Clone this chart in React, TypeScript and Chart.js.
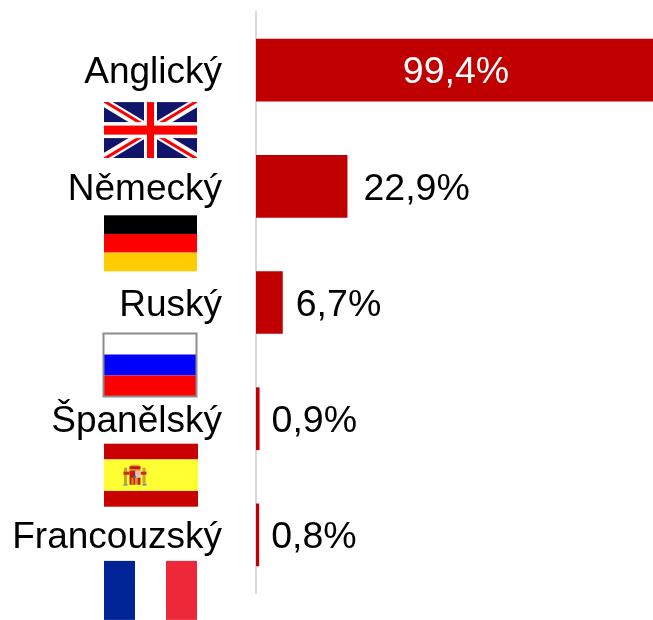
import React, { useEffect, useRef } from "react";
import { Chart, registerables } from "chart.js";

Chart.register(...registerables);

const categories = ["Anglický", "Německý", "Ruský", "Španělský", "Francouzský"];
const shares = [99.4, 22.9, 6.7, 0.9, 0.8];
const shareLabels = ["99,4%", "22,9%", "6,7%", "0,9%", "0,8%"];
const flags = ["uk", "de", "ru", "es", "fr"];

const FONT = '37.5px "Liberation Sans", Arial, sans-serif';

type Ctx = CanvasRenderingContext2D;

function stripes(c: Ctx, x: number, y: number, w: number, h: number, cols: string[], weights: number[]) {
  const total = weights.reduce((a, b) => a + b, 0);
  let cy = y;
  cols.forEach((col, i) => {
    const sh = (h * weights[i]) / total;
    c.fillStyle = col;
    c.fillRect(x, cy, w, sh);
    cy += sh;
  });
}

function line(c: Ctx, x1: number, y1: number, x2: number, y2: number, col: string, lw: number) {
  c.strokeStyle = col;
  c.lineWidth = lw;
  c.beginPath();
  c.moveTo(x1, y1);
  c.lineTo(x2, y2);
  c.stroke();
}

function drawUK(c: Ctx, x: number, y: number, w: number, h: number) {
  c.save();
  c.beginPath();
  c.rect(x, y, w, h);
  c.clip();
  c.fillStyle = "#10146a";
  c.fillRect(x, y, w, h);
  const mx = x + w / 2;
  const my = y + h / 2;
  line(c, x, y, x + w, y + h, "#ffffff", 9);
  line(c, x + w, y, x, y + h, "#ffffff", 9);
  line(c, x, y - 1, mx, my - 1, "#ff0000", 3);
  line(c, mx, my + 1, x + w, y + h + 1, "#ff0000", 3);
  line(c, x + w, y - 1, mx, my - 1, "#ff0000", 3);
  line(c, mx, my + 1, x, y + h + 1, "#ff0000", 3);
  c.fillStyle = "#ffffff";
  c.fillRect(mx - 6.5, y, 13, h);
  c.fillRect(x, my - 8, w, 16);
  c.fillStyle = "#ff0000";
  c.fillRect(mx - 3.5, y, 7, h);
  c.fillRect(x, my - 4.5, w, 9);
  c.restore();
}

function drawArms(c: Ctx, x: number, y: number) {
  c.fillStyle = "#c9a227";
  c.fillRect(x + 0.5, y + 4, 3, 16);
  c.fillRect(x + 19, y + 4, 3, 16);
  c.fillStyle = "#6f9fb5";
  c.fillRect(x, y + 20, 4, 2);
  c.fillRect(x + 19, y + 20, 4, 2);
  c.fillStyle = "#cc2a1e";
  c.fillRect(x, y + 8, 6, 3);
  c.fillRect(x + 17, y + 8, 6, 3);
  c.fillStyle = "#d9b026";
  c.fillRect(x + 7, y + 1, 9, 1.5);
  c.fillStyle = "#c8141a";
  c.fillRect(x + 6, y + 2.5, 11, 3);
  c.fillStyle = "#cc7a1e";
  c.fillRect(x + 6, y + 5.5, 11, 1.5);
  c.fillStyle = "#c41e14";
  c.fillRect(x + 6, y + 7, 6, 14);
  c.fillStyle = "#e2bcc0";
  c.fillRect(x + 12, y + 7, 5, 7);
  c.fillStyle = "#d89024";
  c.fillRect(x + 8, y + 14, 2, 7);
  c.fillRect(x + 12, y + 14, 2, 7);
  c.fillStyle = "#c41e14";
  c.fillRect(x + 14, y + 14, 3, 7);
  c.fillStyle = "#4a74b0";
  c.fillRect(x + 10.5, y + 12, 2, 2);
}

function drawFlag(c: Ctx, kind: string, cy: number) {
  if (kind === "uk") {
    drawUK(c, 104, cy + 32, 93, 56);
  } else if (kind === "de") {
    stripes(c, 104, cy + 29, 93, 56, ["#000000", "#ff0000", "#ffcc00"], [1, 1, 1]);
  } else if (kind === "ru") {
    stripes(c, 103.5, cy + 31, 93, 63, ["#ffffff", "#0000ff", "#ff0000"], [1, 1, 1]);
    c.strokeStyle = "#8c8c8c";
    c.lineWidth = 2;
    c.strokeRect(103.5, cy + 31, 93, 63);
  } else if (kind === "es") {
    stripes(c, 104, cy + 25, 94, 63, ["#c90000", "#ffff33", "#c90000"], [1, 2, 1]);
    drawArms(c, 123.5, cy + 45);
  } else {
    c.fillStyle = "#002395";
    c.fillRect(104, cy + 26, 31, 59);
    c.fillStyle = "#ed2939";
    c.fillRect(166, cy + 26, 31, 59);
  }
}

const flagPlugin = {
  id: "flagPlugin",
  afterDraw(chart: any) {
    const yScale = chart.scales.y;
    flags.forEach((f, i) => drawFlag(chart.ctx, f, yScale.getPixelForValue(i)));
  },
};

const valueLabelPlugin = {
  id: "valueLabelPlugin",
  afterDatasetsDraw(chart: any) {
    const c: Ctx = chart.ctx;
    const bars = chart.getDatasetMeta(0).data;
    const gaps = [0, 16, 13, 12, 12];
    c.save();
    c.font = FONT;
    c.textBaseline = "middle";
    bars.forEach((bar: any, i: number) => {
      if (shares[i] > 50) {
        c.fillStyle = "#ffffff";
        c.textAlign = "center";
        c.fillText(shareLabels[i], (bar.x + bar.base) / 2 + 1.5, bar.y + 3);
      } else {
        c.fillStyle = "#000000";
        c.textAlign = "left";
        c.fillText(shareLabels[i], bar.x + gaps[i], bar.y + 3);
      }
    });
    c.restore();
  },
};

export default function App() {
  const ref = useRef<HTMLCanvasElement | null>(null);

  useEffect(() => {
    document.body.style.margin = "0";
    const chart = new Chart(ref.current!, {
      type: "bar",
      data: {
        labels: categories,
        datasets: [
          {
            data: shares,
            backgroundColor: "#c00000",
            barPercentage: 0.54,
            categoryPercentage: 1,
          },
        ],
      },
      options: {
        indexAxis: "y",
        responsive: false,
        animation: false,
        layout: { padding: { top: 12, bottom: 27, left: 0, right: 0 } },
        plugins: { legend: { display: false }, tooltip: { enabled: false } },
        scales: {
          x: { display: false, min: 0, max: 99.4 },
          y: {
            afterFit(scale: any) {
              scale.width = 256;
              scale.paddingTop = 0;
              scale.paddingBottom = 0;
            },
            grid: { drawOnChartArea: false, drawTicks: false },
            border: { color: "#d9d9d9", width: 2 },
            ticks: {
              color: "#000000",
              padding: 34,
              labelOffset: 3,
              font: { family: '"Liberation Sans", Arial, sans-serif', size: 37 },
            },
          },
        },
      },
      plugins: [valueLabelPlugin, flagPlugin],
    } as any);
    return () => chart.destroy();
  }, []);

  return <canvas ref={ref} width={653} height={620} style={{ display: "block" }} />;
}
